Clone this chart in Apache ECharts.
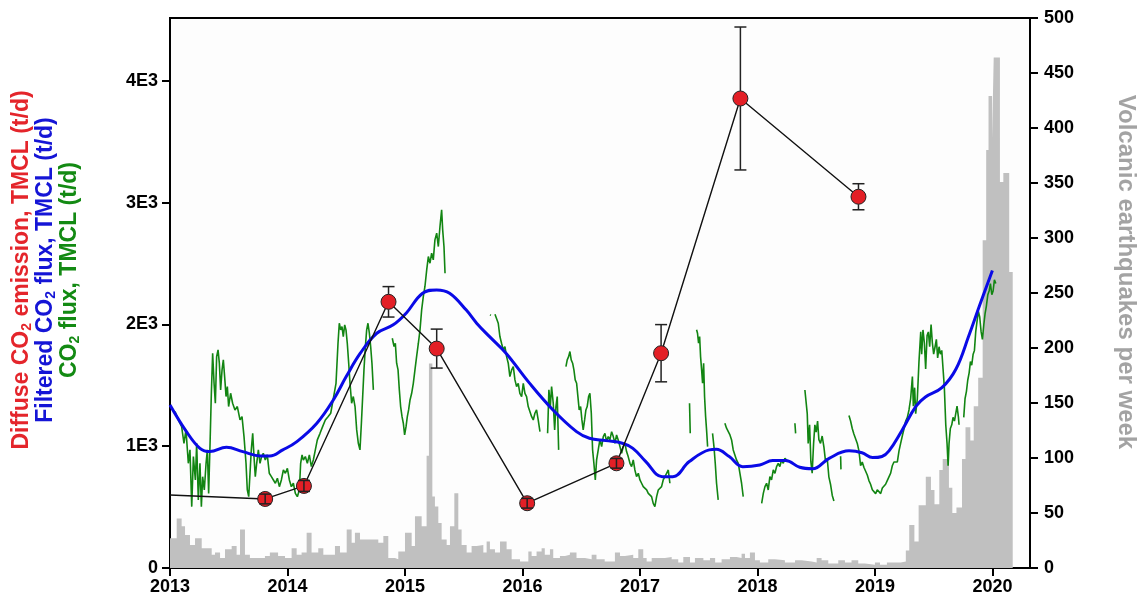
<!DOCTYPE html>
<html>
<head>
<meta charset="utf-8">
<script src="https://cdn.jsdelivr.net/npm/echarts@6/dist/echarts.min.js"></script>
<style>
  html, body { margin: 0; padding: 0; background: #fff; }
  #chart { width: 1140px; height: 606px; }
</style>
</head>
<body>
<div id="chart"></div>
<script>
// axis ticks
var yearTicks = [2013, 2014, 2015, 2016, 2017, 2018, 2019, 2020];
var fluxTicks = [0, 1000, 2000, 3000, 4000];
var quakeTicks = [0, 50, 100, 150, 200, 250, 300, 350, 400, 450, 500];

// weekly volcanic earthquakes: [start of bin (year), count]
var quakes = [
  [2013.0, 27], [2013.057, 45], [2013.099, 38], [2013.128, 30], [2013.17, 21], [2013.213, 27],
  [2013.27, 18], [2013.355, 12], [2013.383, 14], [2013.426, 9], [2013.468, 17], [2013.525, 20],
  [2013.567, 12], [2013.596, 35], [2013.638, 12], [2013.68, 9], [2013.808, 11], [2013.85, 14],
  [2013.92, 11], [2013.979, 9], [2014.035, 18], [2014.078, 12], [2014.12, 14], [2014.163, 32],
  [2014.205, 14], [2014.262, 18], [2014.305, 12], [2014.404, 20], [2014.447, 14], [2014.504, 35],
  [2014.546, 23], [2014.574, 32], [2014.617, 26], [2014.773, 23], [2014.816, 29], [2014.858, 9],
  [2014.915, 8], [2014.943, 15], [2015.0, 32], [2015.057, 20], [2015.085, 47], [2015.142, 38],
  [2015.184, 102], [2015.204, 186], [2015.233, 65], [2015.255, 56], [2015.284, 41], [2015.312, 26],
  [2015.355, 21], [2015.383, 38], [2015.42, 68], [2015.454, 35], [2015.482, 21], [2015.525, 14],
  [2015.567, 20], [2015.61, 21], [2015.667, 14], [2015.695, 24], [2015.723, 17], [2015.766, 14],
  [2015.809, 24], [2015.865, 17], [2015.908, 8], [2015.979, 6], [2016.05, 15], [2016.078, 11],
  [2016.12, 15], [2016.163, 18], [2016.19, 12], [2016.234, 17], [2016.262, 9], [2016.319, 11],
  [2016.362, 12], [2016.404, 14], [2016.46, 9], [2016.532, 8], [2016.589, 12], [2016.63, 8],
  [2016.70, 6], [2016.787, 14], [2016.83, 11], [2016.872, 12], [2016.943, 9], [2016.986, 17],
  [2017.028, 9], [2017.057, 6], [2017.1, 9], [2017.213, 10], [2017.27, 8], [2017.326, 5],
  [2017.369, 10], [2017.426, 5], [2017.468, 9], [2017.54, 7], [2017.596, 9], [2017.64, 5],
  [2017.695, 8], [2017.766, 10], [2017.823, 9], [2017.865, 13], [2017.894, 9], [2017.936, 14],
  [2017.979, 7], [2018.021, 5], [2018.092, 8], [2018.149, 7], [2018.234, 5], [2018.32, 7],
  [2018.376, 6], [2018.461, 5], [2018.504, 9], [2018.546, 7], [2018.603, 4], [2018.688, 7],
  [2018.745, 5], [2018.801, 7], [2018.858, 4], [2018.915, 3], [2019.0, 5], [2019.043, 3],
  [2019.102, 5], [2019.219, 6], [2019.263, 16], [2019.292, 39], [2019.336, 24], [2019.372, 57],
  [2019.433, 83], [2019.477, 71], [2019.507, 58], [2019.548, 89], [2019.577, 99], [2019.63, 73],
  [2019.659, 50], [2019.694, 55], [2019.741, 99], [2019.771, 128], [2019.812, 116], [2019.841, 147],
  [2019.879, 173], [2019.917, 298], [2019.947, 380], [2019.967, 429], [2019.997, 390], [2020.011, 464],
  [2020.064, 351], [2020.093, 359], [2020.143, 269], [2020.173, 0]
];

// CO2 flux (t/d), null = gap in the record
var co2Flux = [
  [2013.043, 1285], [2013.071, 1216], [2013.099, 1161], [2013.119, 1024], [2013.136, 1134], [2013.156, 860],
  [2013.170, 970], [2013.185, 504], [2013.199, 915], [2013.216, 723], [2013.227, 1024], [2013.241, 559],
  [2013.255, 860], [2013.267, 504], [2013.278, 750], [2013.292, 641], [2013.307, 860], [2013.318, 970],
  [2013.329, 613], [2013.341, 1024], [2013.352, 1435], [2013.363, 1764], [2013.375, 1517], [2013.386, 1353],
  [2013.397, 1736], [2013.409, 1791], [2013.420, 1682], [2013.431, 1463], [2013.443, 1627], [2013.454, 1709],
  [2013.465, 1572], [2013.477, 1408], [2013.488, 1490], [2013.499, 1326], [2013.516, 1435], [2013.533, 1353],
  [2013.553, 1298], [2013.573, 1326], [2013.596, 1216], [2013.613, 1243], [2013.630, 1079], [2013.647, 860],
  [2013.658, 641], [2013.670, 586], [2013.681, 778], [2013.692, 970], [2013.704, 1106], [2013.715, 915],
  [2013.726, 750], [2013.738, 860], [2013.752, 970], [2013.766, 860], [2013.780, 915], [2013.794, 942],
  [2013.811, 887], [2013.828, 929], [2013.845, 778], [2013.863, 750], [2013.880, 723], [2013.897, 696],
  [2013.914, 737], [2013.931, 668], [2013.948, 723], [2013.965, 805], [2013.982, 778], [2013.999, 819],
  [2014.016, 723], [2014.033, 668], [2014.050, 696], [2014.067, 613], [2014.084, 586], [2014.101, 641],
  [2014.112, 860], [2014.124, 929], [2014.135, 887], [2014.152, 915], [2014.169, 860], [2014.186, 929],
  [2014.203, 833], [2014.220, 887], [2014.237, 970], [2014.254, 1052], [2014.277, 1106], [2014.299, 1161],
  [2014.322, 1216], [2014.345, 1243], [2014.368, 1271], [2014.413, 1517], [2014.430, 1846], [2014.441, 2010],
  [2014.453, 1956], [2014.464, 1983], [2014.475, 1901], [2014.487, 1997], [2014.498, 1956], [2014.509, 1846],
  [2014.521, 1682], [2014.532, 1517], [2014.546, 1353], [2014.560, 1408], [2014.575, 1326], [2014.589, 1134],
  [2014.603, 1024], [2014.617, 970], [2014.629, 1189], [2014.640, 1408], [2014.651, 1627], [2014.663, 1819],
  [2014.674, 1956], [2014.685, 2010], [2014.697, 1928], [2014.708, 1819], [2014.719, 1682], [2014.731, 1463],
  null,
  [2014.892, 1887], [2014.907, 1819], [2014.918, 1846], [2014.929, 1682], [2014.941, 1627], [2014.952, 1463],
  [2014.963, 1326], [2014.975, 1243], [2014.986, 1189], [2014.997, 1093], [2015.009, 1161], [2015.020, 1243],
  [2015.031, 1298], [2015.043, 1380], [2015.057, 1435], [2015.071, 1517], [2015.085, 1627], [2015.099, 1736],
  [2015.114, 1846], [2015.128, 1956], [2015.142, 2120], [2015.156, 2229], [2015.170, 2312], [2015.185, 2449],
  [2015.199, 2558], [2015.213, 2503], [2015.227, 2586], [2015.241, 2531], [2015.255, 2695], [2015.270, 2750],
  [2015.284, 2640], [2015.298, 2805], [2015.312, 2942], [2015.321, 2777], [2015.332, 2640], [2015.341, 2421],
  null,
  [2015.723, 2079], [2015.732, 2075],
  null,
  [2015.766, 2084], [2015.780, 2093], [2015.794, 2010], [2015.808, 1901], [2015.822, 1846], [2015.837, 1791],
  [2015.851, 1819], [2015.865, 1736], [2015.879, 1682], [2015.893, 1572], [2015.908, 1627], [2015.922, 1654],
  [2015.936, 1545], [2015.950, 1490], [2015.964, 1517], [2015.978, 1435], [2015.993, 1408], [2016.007, 1517],
  [2016.021, 1435], [2016.035, 1408], [2016.049, 1326], [2016.064, 1326], [2016.078, 1243], [2016.092, 1216],
  [2016.106, 1271], [2016.120, 1298], [2016.134, 1216], [2016.149, 1120],
  null,
  [2016.214, 1106], [2016.225, 1463], [2016.237, 1326], [2016.248, 1490], [2016.262, 1353], [2016.274, 1134],
  [2016.285, 1326], [2016.296, 1408], [2016.308, 970],
  null,
  [2016.370, 1654], [2016.381, 1709], [2016.393, 1736], [2016.404, 1778], [2016.415, 1709], [2016.427, 1682],
  [2016.438, 1627], [2016.449, 1545], [2016.461, 1517], [2016.472, 1408], [2016.483, 1298], [2016.495, 1326],
  [2016.506, 1216], [2016.517, 1134], [2016.529, 1216], [2016.540, 1298], [2016.551, 1326], [2016.563, 1408],
  [2016.574, 1435], [2016.586, 1271], [2016.597, 970], [2016.608, 860], [2016.620, 723], [2016.631, 887],
  [2016.645, 970], [2016.659, 1052], [2016.674, 997], [2016.688, 1079], [2016.702, 1106], [2016.716, 1038],
  [2016.730, 1079], [2016.744, 1052], [2016.759, 1120], [2016.773, 1079], [2016.787, 1024], [2016.801, 1093],
  [2016.815, 1052], [2016.830, 997], [2016.844, 942], [2016.858, 997], [2016.872, 1024], [2016.886, 956],
  [2016.900, 915], [2016.915, 860], [2016.929, 833], [2016.943, 887], [2016.957, 805], [2016.971, 750],
  [2016.986, 778], [2017.000, 723], [2017.014, 696], [2017.028, 668], [2017.042, 682], [2017.057, 641],
  [2017.071, 613], [2017.085, 627], [2017.099, 586], [2017.113, 531], [2017.127, 504], [2017.142, 586],
  [2017.156, 641], [2017.170, 655], [2017.184, 668], [2017.198, 723], [2017.213, 750], [2017.227, 778],
  [2017.241, 805], [2017.255, 696],
  null,
  [2017.422, 1353], [2017.428, 1107],
  null,
  [2017.482, 1956], [2017.490, 1928], [2017.499, 1846], [2017.508, 1901], [2017.516, 1736], [2017.525, 1627],
  [2017.533, 1517], [2017.542, 1682], [2017.550, 1408], [2017.559, 1243], [2017.567, 1134], [2017.576, 997],
  null,
  [2017.618, 1106], [2017.630, 997], [2017.641, 860], [2017.652, 696], [2017.666, 559],
  null,
  [2017.723, 1189], [2017.737, 1148], [2017.752, 1134], [2017.766, 1093], [2017.780, 1052], [2017.794, 970],
  [2017.808, 983], [2017.822, 887], [2017.837, 860], [2017.851, 778], [2017.865, 696], [2017.879, 586],
  null,
  [2018.036, 531], [2018.050, 613], [2018.064, 668], [2018.078, 696], [2018.092, 641], [2018.106, 750],
  [2018.120, 723], [2018.135, 805], [2018.149, 778], [2018.163, 833], [2018.177, 860], [2018.191, 833],
  [2018.205, 887], [2018.220, 860], [2018.234, 901], [2018.248, 887],
  null,
  [2018.319, 1189], [2018.325, 1106],
  null,
  [2018.404, 1462], [2018.415, 1451], [2018.424, 1268], [2018.432, 1023], [2018.444, 1176], [2018.455, 871],
  [2018.466, 779], [2018.478, 1023], [2018.489, 1176], [2018.500, 1115], [2018.512, 1207], [2018.523, 1054],
  [2018.537, 1023], [2018.551, 1084], [2018.566, 993], [2018.580, 871], [2018.594, 901], [2018.608, 749],
  [2018.622, 688], [2018.637, 596], [2018.651, 550],
  null,
  [2018.708, 917], [2018.711, 810],
  null,
  [2018.779, 1252], [2018.793, 1207], [2018.807, 1146], [2018.821, 1100], [2018.836, 1115], [2018.850, 1023],
  [2018.864, 962], [2018.878, 840], [2018.892, 871], [2018.907, 825], [2018.921, 810], [2018.935, 764],
  [2018.949, 718], [2018.963, 688], [2018.978, 642], [2018.992, 627], [2019.006, 611], [2019.020, 642],
  [2019.034, 627], [2019.049, 611], [2019.063, 657], [2019.077, 657], [2019.091, 688], [2019.105, 718],
  [2019.120, 718], [2019.134, 779], [2019.148, 840], [2019.162, 871], [2019.176, 886], [2019.191, 871],
  [2019.205, 962], [2019.219, 1023], [2019.233, 1084], [2019.248, 1146], [2019.262, 1207], [2019.276, 1237],
  [2019.290, 1298], [2019.304, 1390], [2019.319, 1573], [2019.327, 1329], [2019.338, 1481], [2019.347, 1268],
  [2019.361, 1390], [2019.375, 1695], [2019.390, 1939], [2019.398, 1756], [2019.409, 1955], [2019.421, 1848],
  [2019.432, 1634], [2019.444, 1909], [2019.455, 1939], [2019.466, 1817], [2019.478, 2000], [2019.489, 1848],
  [2019.500, 1756], [2019.512, 1817], [2019.523, 1878], [2019.534, 1726], [2019.546, 1817], [2019.557, 1756],
  [2019.569, 1787], [2019.580, 1634], [2019.591, 1481], [2019.603, 1176], [2019.614, 1023], [2019.623, 840],
  [2019.631, 1023], [2019.642, 1146], [2019.654, 1176], [2019.665, 1237], [2019.677, 1207], [2019.688, 1268],
  [2019.699, 1329], [2019.711, 1237], [2019.716, 1176],
  null,
  [2019.756, 1237], [2019.767, 1390], [2019.779, 1451], [2019.790, 1542], [2019.802, 1603], [2019.813, 1695],
  [2019.824, 1665], [2019.836, 1756], [2019.847, 1787], [2019.858, 1939], [2019.870, 2031], [2019.881, 2107],
  [2019.892, 2061], [2019.904, 1939], [2019.915, 1878], [2019.927, 2000], [2019.938, 2092], [2019.949, 2153],
  [2019.961, 2245], [2019.972, 2275], [2019.983, 2336], [2019.995, 2245], [2020.006, 2275], [2020.017, 2367],
  [2020.029, 2336]
];

// filtered CO2 flux (t/d)
var filteredFlux = [
  [2013.0, 1339], [2013.14, 1120], [2013.255, 983], [2013.34, 956], [2013.48, 992], [2013.62, 956],
  [2013.77, 920], [2013.85, 920], [2013.96, 970], [2014.08, 1038], [2014.25, 1189], [2014.39, 1380],
  [2014.50, 1572], [2014.62, 1764], [2014.76, 1928], [2014.90, 1997], [2015.01, 2093], [2015.15, 2257],
  [2015.27, 2284], [2015.38, 2257], [2015.52, 2120], [2015.61, 2011], [2015.72, 1900], [2015.86, 1764],
  [2016.06, 1518], [2016.26, 1298], [2016.46, 1120], [2016.57, 1066], [2016.71, 1046], [2016.85, 1025],
  [2016.94, 983], [2017.05, 874], [2017.19, 750], [2017.28, 750], [2017.42, 874], [2017.59, 970],
  [2017.65, 975], [2017.76, 915], [2017.875, 832], [2018.02, 846], [2018.13, 882], [2018.24, 882],
  [2018.36, 827], [2018.47, 815], [2018.61, 901], [2018.78, 962], [2018.89, 947], [2018.98, 907],
  [2019.06, 916], [2019.12, 962], [2019.23, 1130], [2019.35, 1329], [2019.43, 1405], [2019.57, 1481],
  [2019.69, 1634], [2019.80, 1909], [2019.89, 2153], [2020.0, 2443]
];

// diffuse CO2 emission surveys (t/d) with error
var surveyDate = [2013.0, 2013.81, 2014.14, 2014.86, 2015.27, 2016.04, 2016.80, 2017.18, 2017.855, 2018.86];
var surveyValue = [600, 567, 674, 2186, 1802, 532, 860, 1764, 3856, 3049];
var surveyError = [0, 40, 45, 125, 160, 40, 40, 235, 587, 107];

var FONT = '"Liberation Sans", Arial, sans-serif';
var chart = echarts.init(document.getElementById('chart'));

var fluxData = [];
var last = null;
co2Flux.forEach(function (p) {
    if (p === null) {
        fluxData.push([last[0] + 0.001, '-']);
    } else {
        fluxData.push(p);
        last = p;
    }
});

var surveyLine = surveyDate.map(function (d, i) {
    if (i === 0) {
        return { value: [d, surveyValue[i]], symbol: 'none' };
    }
    return [d, surveyValue[i]];
});
var errData = [];
for (var i = 1; i < surveyDate.length; i++) {
    errData.push([surveyDate[i], surveyValue[i], surveyError[i]]);
}

var R = 7.5;
function renderErr(params, api) {
    var x = api.value(0), v = api.value(1), e = api.value(2);
    var top = api.coord([x, v + e]);
    var bot = api.coord([x, v - e]);
    var mid = api.coord([x, v]);
    var st = { stroke: '#222', lineWidth: 1.5 };
    var kids = [
        { type: 'line', shape: { x1: top[0] - 6, y1: top[1], x2: top[0] + 6, y2: top[1] }, style: st },
        { type: 'line', shape: { x1: bot[0] - 6, y1: bot[1], x2: bot[0] + 6, y2: bot[1] }, style: st }
    ];
    if (mid[1] - top[1] > R) {
        kids.push({ type: 'line', shape: { x1: mid[0], y1: top[1], x2: mid[0], y2: mid[1] - R }, style: st });
        kids.push({ type: 'line', shape: { x1: mid[0], y1: mid[1] + R, x2: mid[0], y2: bot[1] }, style: st });
    } else {
        kids.push({ type: 'line', shape: { x1: mid[0], y1: top[1], x2: mid[0], y2: bot[1] }, style: st });
    }
    return { type: 'group', children: kids };
}

function titleText(x, parts, color) {
    return {
        type: 'text',
        x: x,
        y: 270,
        rotation: Math.PI / 2,
        style: {
            text: parts,
            align: 'center',
            verticalAlign: 'middle',
            rich: {
                a: { fontSize: 23, fontWeight: 'bold', fontFamily: FONT, fill: color, lineHeight: 24 },
                s: { fontSize: 14, fontWeight: 'bold', fontFamily: FONT, fill: color, lineHeight: 10, verticalAlign: 'bottom' }
            }
        }
    };
}

var option = {
    animation: false,
    backgroundColor: '#ffffff',
    grid: {
        left: 170, right: 110, top: 18, bottom: 38,
        show: true, borderColor: '#000', borderWidth: 2, backgroundColor: '#fdfdfd'
    },
    xAxis: {
        type: 'value',
        min: 2013,
        max: 2020.32,
        interval: 1,
        axisLine: { lineStyle: { color: '#000', width: 2 } },
        axisTick: { length: 8, lineStyle: { color: '#000', width: 2 }, customValues: yearTicks },
        axisLabel: {
            customValues: yearTicks,
            margin: 10,
            color: '#000', fontSize: 18, fontWeight: 'bold', fontFamily: FONT,
            formatter: function (v) { return Math.abs(v - Math.round(v)) < 1e-6 ? String(Math.round(v)) : ''; }
        },
        splitLine: { show: false }
    },
    yAxis: [{
        type: 'value',
        min: 0,
        max: 4517,
        interval: 1000,
        axisLine: { show: true, lineStyle: { color: '#000', width: 2 } },
        axisTick: { show: true, length: 8, lineStyle: { color: '#000', width: 2 }, customValues: fluxTicks },
        axisLabel: {
            customValues: fluxTicks,
            margin: 12,
            color: '#000', fontSize: 18, fontWeight: 'bold', fontFamily: FONT,
            formatter: function (v) {
                if (v === 0) return '0';
                return v % 1000 === 0 ? (v / 1000) + 'E3' : '';
            }
        },
        splitLine: { show: false }
    }, {
        type: 'value',
        position: 'right',
        min: 0,
        max: 500,
        interval: 50,
        axisLine: { show: true, lineStyle: { color: '#000', width: 2 } },
        axisTick: { show: true, length: 8, lineStyle: { color: '#000', width: 2 }, customValues: quakeTicks },
        axisLabel: {
            customValues: quakeTicks,
            margin: 14,
            color: '#000', fontSize: 18, fontWeight: 'bold', fontFamily: FONT
        },
        splitLine: { show: false }
    }],
    graphic: [
        titleText(22, '{a|Diffuse CO}{s|2}{a| emission, TMCL (t/d)}', '#e4252b'),
        titleText(46, '{a|Filtered CO}{s|2}{a| flux, TMCL (t/d)}', '#1515d6'),
        titleText(70, '{a|CO}{s|2}{a| flux, TMCL (t/d)}', '#138a13'),
        {
            type: 'text',
            x: 1126,
            y: 272,
            rotation: -Math.PI / 2,
            style: {
                text: 'Volcanic earthquakes per week',
                align: 'center',
                verticalAlign: 'middle',
                fontSize: 24,
                fontWeight: 'bold',
                fontFamily: FONT,
                fill: '#a3a3a3'
            }
        }
    ],
    series: [{
        name: 'Volcanic earthquakes',
        type: 'line',
        yAxisIndex: 1,
        step: 'end',
        symbol: 'none',
        data: quakes,
        lineStyle: { width: 0, color: '#c0c0c0' },
        areaStyle: { color: '#c0c0c0', opacity: 1 },
        z: 1
    }, {
        name: 'CO2 flux',
        type: 'line',
        symbol: 'none',
        connectNulls: false,
        data: fluxData,
        lineStyle: { width: 1.6, color: '#128512' },
        z: 2
    }, {
        name: 'Filtered CO2 flux',
        type: 'line',
        symbol: 'none',
        smooth: 0.4,
        data: filteredFlux,
        lineStyle: { width: 3, color: '#0a0ae6' },
        z: 3
    }, {
        name: 'Diffuse CO2 emission',
        type: 'line',
        data: surveyLine,
        symbol: 'circle',
        symbolSize: 15,
        lineStyle: { width: 1.4, color: '#111' },
        itemStyle: { color: '#e31f26', borderColor: '#222', borderWidth: 1 },
        z: 4
    }, {
        name: 'Error',
        type: 'custom',
        renderItem: renderErr,
        data: errData,
        encode: { x: 0, y: 1 },
        z: 5
    }]
};

chart.setOption(option);
</script>
</body>
</html>
